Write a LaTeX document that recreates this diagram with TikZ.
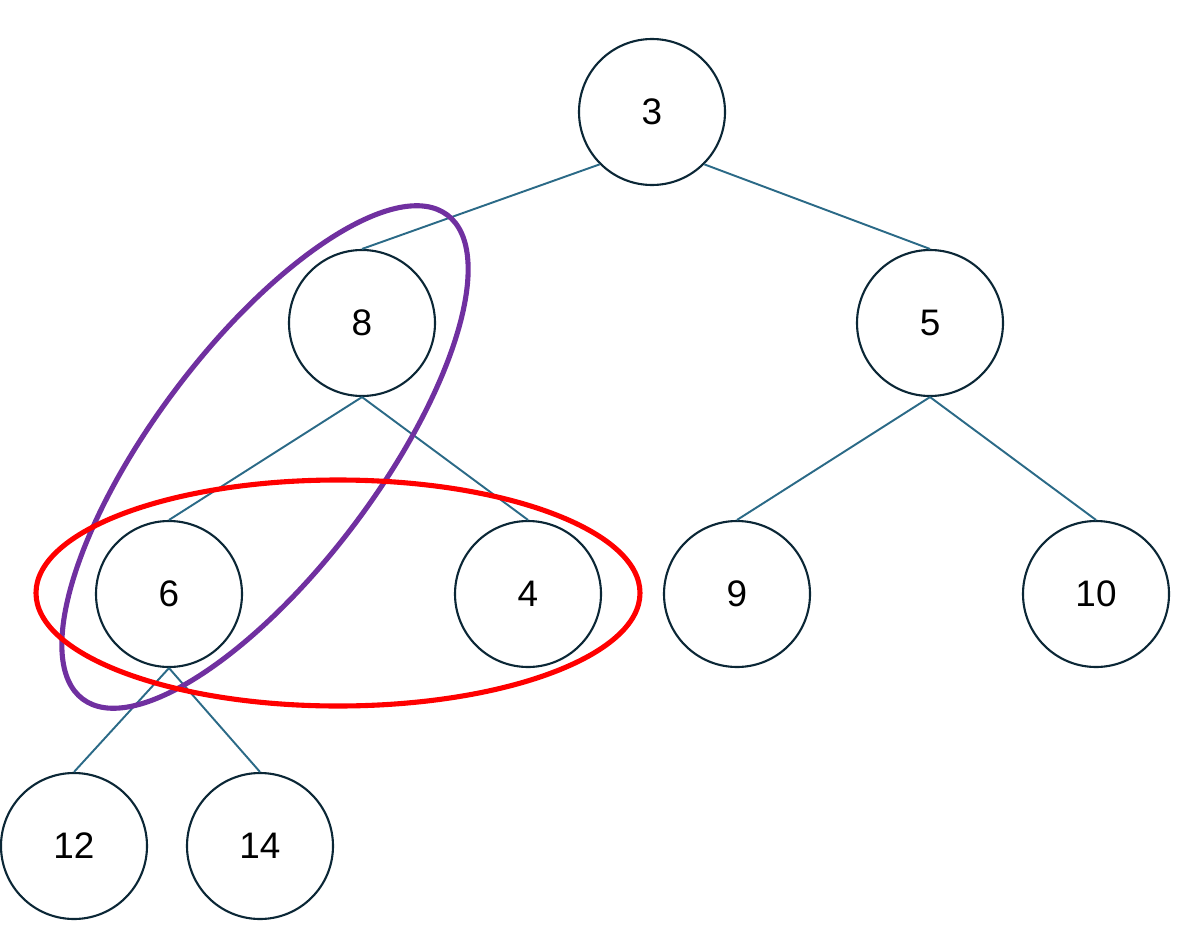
\documentclass[tikz,border=0pt]{standalone}
\usepackage{fontspec}
\setmainfont{Liberation Sans}
\usetikzlibrary{positioning}
\definecolor{ringline}{HTML}{0B2736}
\definecolor{edgeline}{HTML}{2B6A87}
\definecolor{groupviolet}{HTML}{7030A0}

\begin{document}
\begin{tikzpicture}[font=\fontsize{21}{25}\selectfont, on grid, key/.style={draw=ringline, circle, line width=1.2pt, minimum size=2.92cm, inner sep=0pt, fill=white}, link/.style={draw=edgeline, line width=1.1pt}, ring/.style={line width=2.9pt}]
\useasboundingbox (0,0) rectangle (24.02,-18.68);
\node[key] (n3) at (13.04,-2.24) {3};
\node[key, below left=4.22 and 5.80 of n3] (n8) {8};
\node[key, below right=4.22 and 5.56 of n3] (n5) {5};
\node[key, below left=5.42 and 3.86 of n8] (n6) {6};
\node[key, below right=5.42 and 3.32 of n8] (n4) {4};
\node[key, below left=5.42 and 3.86 of n5] (n9) {9};
\node[key, below right=5.42 and 3.32 of n5] (n10) {10};
\node[key, below left=5.04 and 1.90 of n6] (n12) {12};
\node[key, below right=5.04 and 1.82 of n6] (n14) {14};
\draw[link] (n3.south west) -- (n8.north);
\draw[link] (n3.south east) -- (n5.north);
\draw[link] (n8.south) -- (n6.north);
\draw[link] (n8.south) -- (n4.north);
\draw[link] (n5.south) -- (n9.north);
\draw[link] (n5.south) -- (n10.north);
\draw[link] (n6.south) -- (n12.north);
\draw[link] (n6.south) -- (n14.north);
% highlighted groups
\draw[ring, groupviolet, rotate around={53:(5.30,-9.14)}] (5.30,-9.14) ellipse (6.06 and 2.24);
\draw[ring, red] (6.76,-11.86) ellipse (6.04 and 2.26);
\end{tikzpicture}
\end{document}
